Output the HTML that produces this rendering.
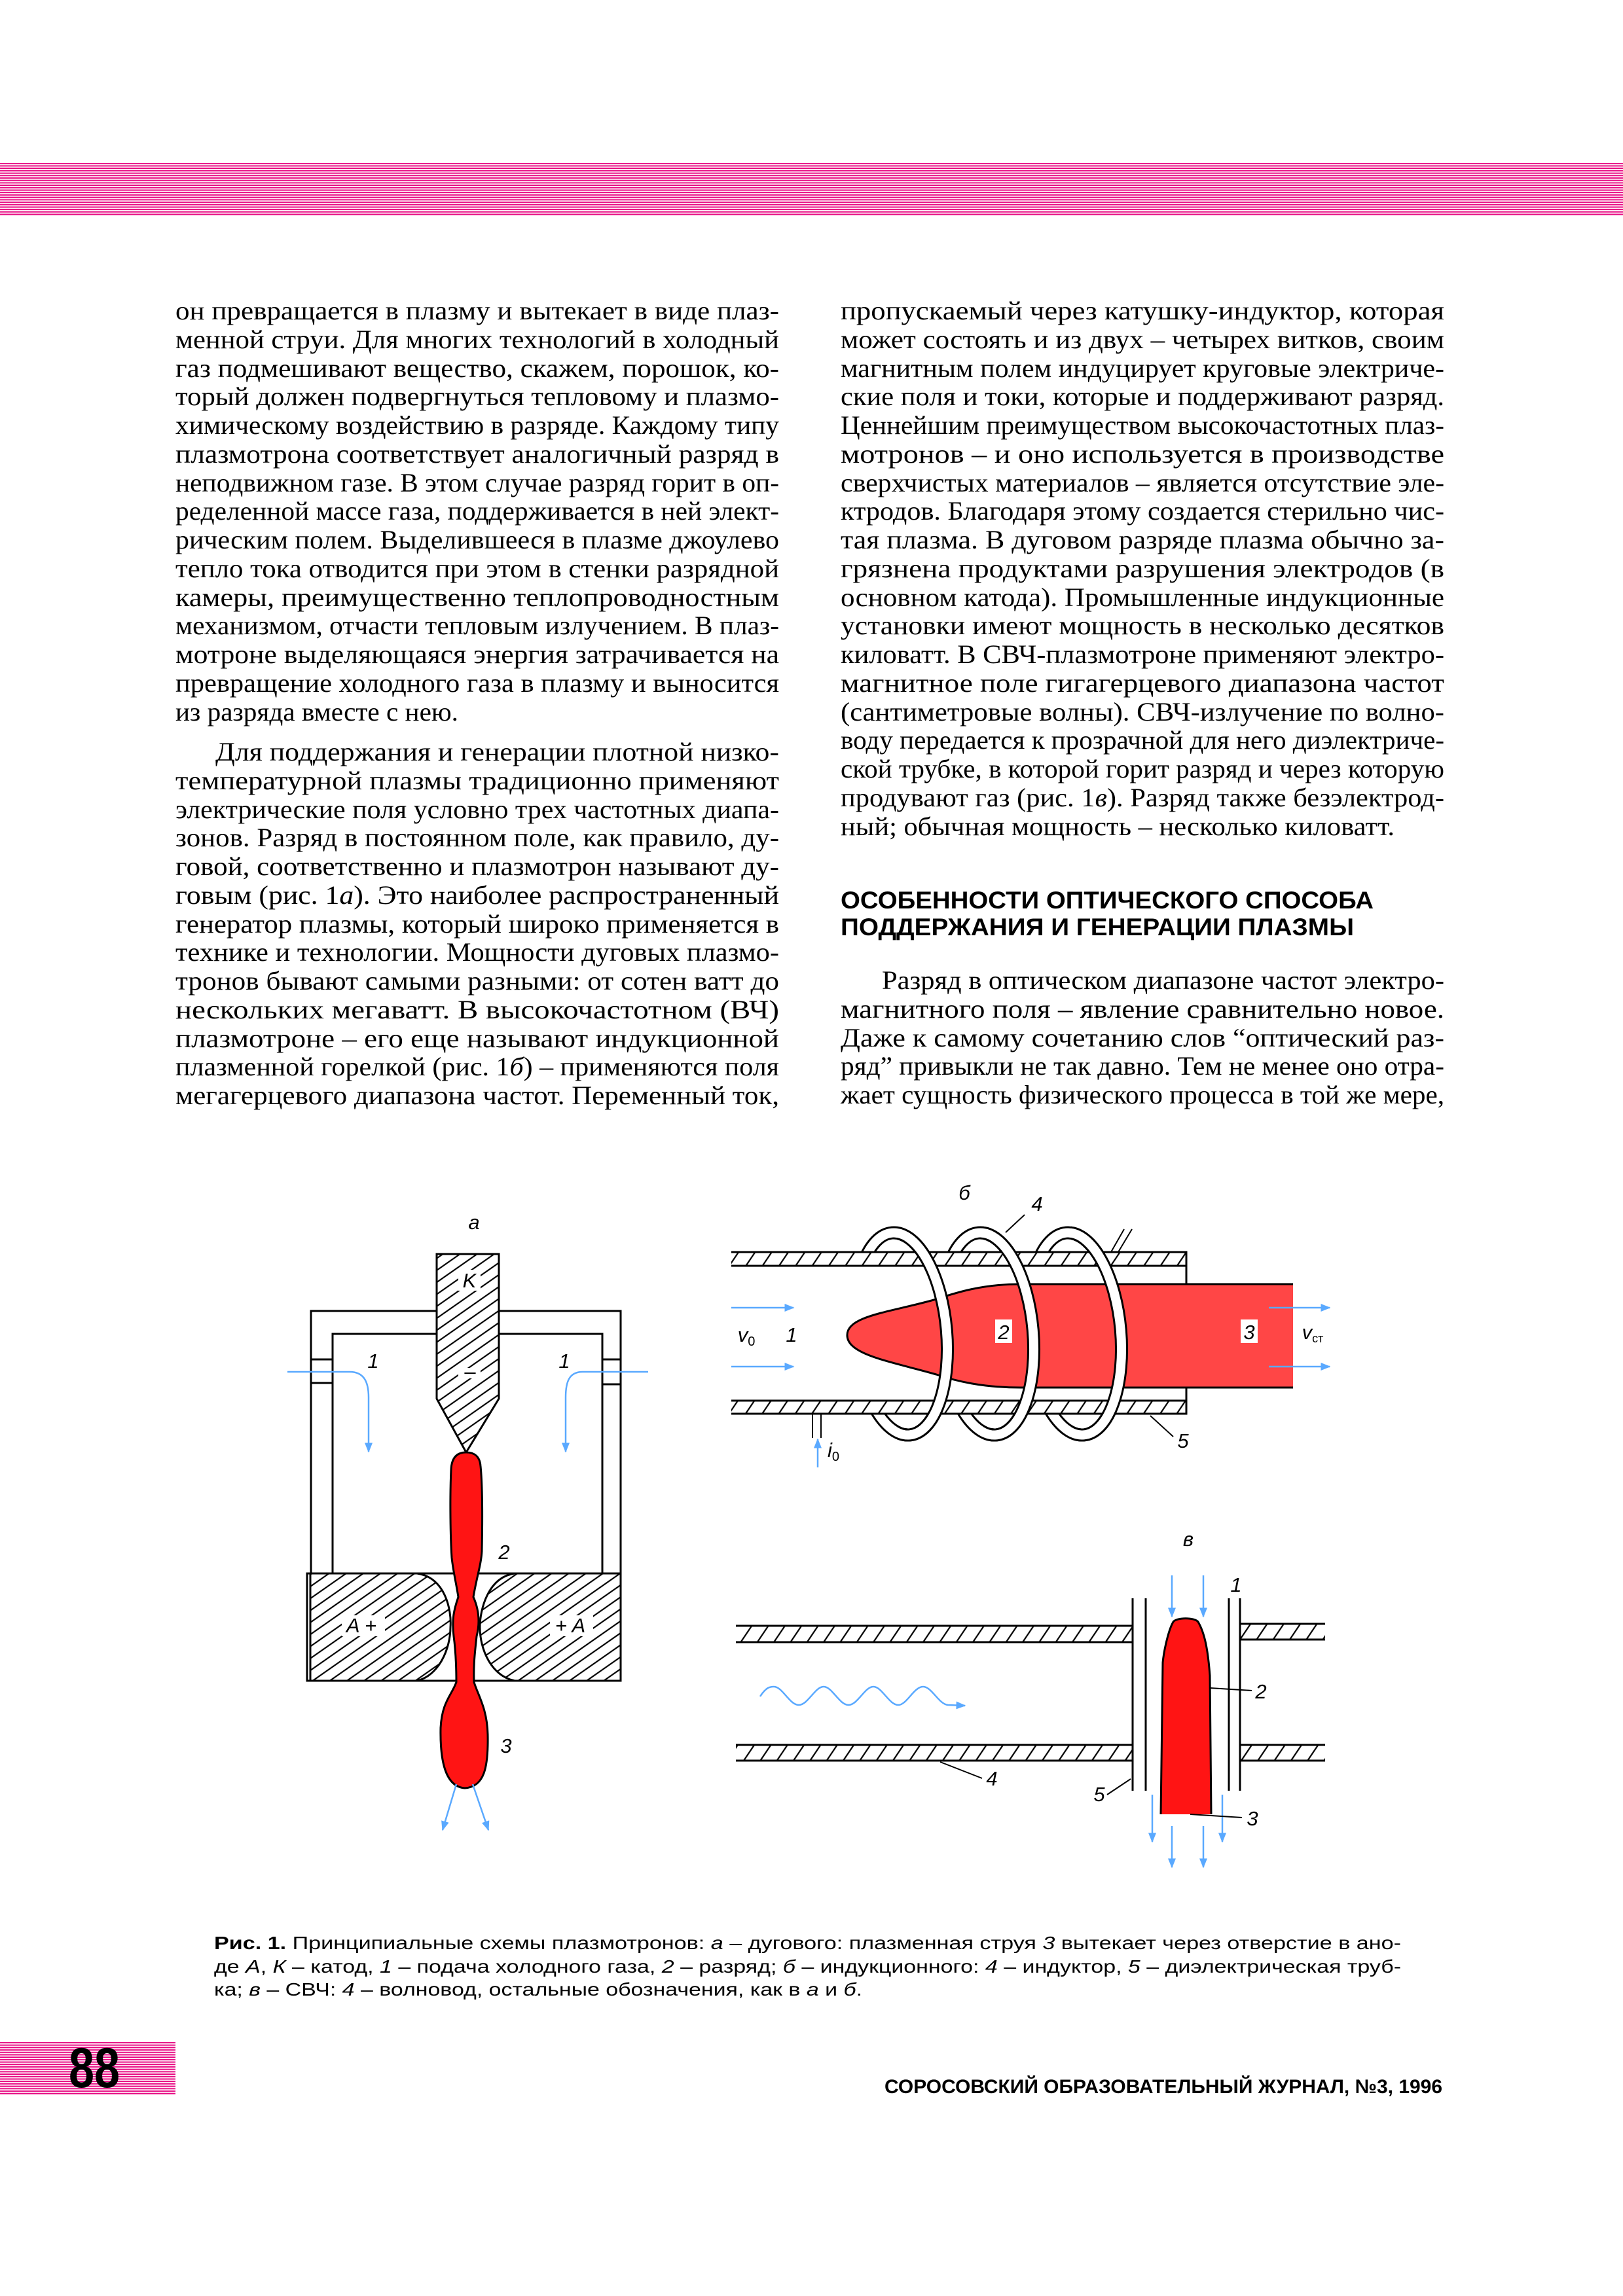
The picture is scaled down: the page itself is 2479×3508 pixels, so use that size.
<!DOCTYPE html>
<html><head><meta charset="utf-8"><style>
html,body{margin:0;padding:0;background:#fff}
svg{display:block}
.b{font-family:"Liberation Serif","DejaVu Serif",serif;font-size:40px;fill:#000}
.h{font-family:"Liberation Sans",sans-serif;font-weight:bold;font-size:37px}
.c{font-family:"Liberation Sans",sans-serif;font-size:28px}
.l{font-family:"Liberation Sans",sans-serif;font-style:italic;font-size:31px}
</style></head><body>
<svg width="2479" height="3508" viewBox="0 0 2479 3508" xmlns="http://www.w3.org/2000/svg">
<defs>
<pattern id="pk" width="40" height="3.7" patternUnits="userSpaceOnUse">
<rect width="40" height="3.7" fill="#fff0f7"/><rect y="1" width="40" height="1.8" fill="#e6007e"/>
</pattern>
<pattern id="ha" width="15" height="15" patternUnits="userSpaceOnUse" patternTransform="rotate(-35)">
<rect width="15" height="15" fill="#fff"/><line x1="0" y1="7.5" x2="15" y2="7.5" stroke="#000" stroke-width="2.2"/>
</pattern>
<pattern id="hb" width="21" height="21" patternUnits="userSpaceOnUse" patternTransform="rotate(-56)">
<rect width="21" height="21" fill="#fff"/><line x1="0" y1="10" x2="21" y2="10" stroke="#000" stroke-width="2.2"/>
</pattern>
<marker id="ar" viewBox="0 0 10 10" refX="9" refY="5" markerWidth="6" markerHeight="6" orient="auto"><path d="M0,1 L10,5 L0,9 Z" fill="#5aa9ff"/></marker>
<clipPath id="f1"><rect x="1370" y="1850" width="300" height="380"/></clipPath>
<clipPath id="f2"><rect x="1502" y="1850" width="300" height="380"/></clipPath>
<clipPath id="f3"><rect x="1636" y="1850" width="300" height="380"/></clipPath>
</defs>

<rect x="0" y="249" width="2479" height="81" fill="url(#pk)"/>
<rect x="0" y="3119" width="268" height="82" fill="url(#pk)"/>
<text x="105" y="3189" font-family="Liberation Sans,sans-serif" font-weight="bold" font-size="86" textLength="78" lengthAdjust="spacingAndGlyphs">88</text>

<g class="b">
<text x="268" y="488" textLength="922" lengthAdjust="spacingAndGlyphs">он превращается в плазму и вытекает в виде плаз-</text>
<text x="268" y="532" textLength="922" lengthAdjust="spacingAndGlyphs">менной струи. Для многих технологий в холодный</text>
<text x="268" y="576" textLength="922" lengthAdjust="spacingAndGlyphs">газ подмешивают вещество, скажем, порошок, ко-</text>
<text x="268" y="619" textLength="922" lengthAdjust="spacingAndGlyphs">торый должен подвергнуться тепловому и плазмо-</text>
<text x="268" y="663" textLength="922" lengthAdjust="spacingAndGlyphs">химическому воздействию в разряде. Каждому типу</text>
<text x="268" y="707" textLength="922" lengthAdjust="spacingAndGlyphs">плазмотрона соответствует аналогичный разряд в</text>
<text x="268" y="751" textLength="922" lengthAdjust="spacingAndGlyphs">неподвижном газе. В этом случае разряд горит в оп-</text>
<text x="268" y="794" textLength="922" lengthAdjust="spacingAndGlyphs">ределенной массе газа, поддерживается в ней элект-</text>
<text x="268" y="838" textLength="922" lengthAdjust="spacingAndGlyphs">рическим полем. Выделившееся в плазме джоулево</text>
<text x="268" y="882" textLength="922" lengthAdjust="spacingAndGlyphs">тепло тока отводится при этом в стенки разрядной</text>
<text x="268" y="926" textLength="922" lengthAdjust="spacingAndGlyphs">камеры, преимущественно теплопроводностным</text>
<text x="268" y="969" textLength="922" lengthAdjust="spacingAndGlyphs">механизмом, отчасти тепловым излучением. В плаз-</text>
<text x="268" y="1013" textLength="922" lengthAdjust="spacingAndGlyphs">мотроне выделяющаяся энергия затрачивается на</text>
<text x="268" y="1057" textLength="922" lengthAdjust="spacingAndGlyphs">превращение холодного газа в плазму и выносится</text>
<text x="268" y="1101" textLength="432" lengthAdjust="spacingAndGlyphs">из разряда вместе с нею.</text>

<text x="329" y="1162" textLength="861" lengthAdjust="spacingAndGlyphs">Для поддержания и генерации плотной низко-</text>
<text x="268" y="1206" textLength="922" lengthAdjust="spacingAndGlyphs">температурной плазмы традиционно применяют</text>
<text x="268" y="1250" textLength="922" lengthAdjust="spacingAndGlyphs">электрические поля условно трех частотных диапа-</text>
<text x="268" y="1293" textLength="922" lengthAdjust="spacingAndGlyphs">зонов. Разряд в постоянном поле, как правило, ду-</text>
<text x="268" y="1337" textLength="922" lengthAdjust="spacingAndGlyphs">говой, соответственно и плазмотрон называют ду-</text>
<text x="268" y="1381" textLength="922" lengthAdjust="spacingAndGlyphs">говым (рис. 1<tspan font-style="italic">а</tspan>). Это наиболее распространенный</text>
<text x="268" y="1425" textLength="922" lengthAdjust="spacingAndGlyphs">генератор плазмы, который широко применяется в</text>
<text x="268" y="1468" textLength="922" lengthAdjust="spacingAndGlyphs">технике и технологии. Мощности дуговых плазмо-</text>
<text x="268" y="1512" textLength="922" lengthAdjust="spacingAndGlyphs">тронов бывают самыми разными: от сотен ватт до</text>
<text x="268" y="1556" textLength="922" lengthAdjust="spacingAndGlyphs">нескольких мегаватт. В высокочастотном (ВЧ)</text>
<text x="268" y="1600" textLength="922" lengthAdjust="spacingAndGlyphs">плазмотроне – его еще называют индукционной</text>
<text x="268" y="1643" textLength="922" lengthAdjust="spacingAndGlyphs">плазменной горелкой (рис. 1<tspan font-style="italic">б</tspan>) – применяются поля</text>
<text x="268" y="1687" textLength="922" lengthAdjust="spacingAndGlyphs">мегагерцевого диапазона частот. Переменный ток,</text>
</g>

<g class="b">
<text x="1284" y="488" textLength="922" lengthAdjust="spacingAndGlyphs">пропускаемый через катушку-индуктор, которая</text>
<text x="1284" y="532" textLength="922" lengthAdjust="spacingAndGlyphs">может состоять и из двух – четырех витков, своим</text>
<text x="1284" y="576" textLength="922" lengthAdjust="spacingAndGlyphs">магнитным полем индуцирует круговые электриче-</text>
<text x="1284" y="619" textLength="922" lengthAdjust="spacingAndGlyphs">ские поля и токи, которые и поддерживают разряд.</text>
<text x="1284" y="663" textLength="922" lengthAdjust="spacingAndGlyphs">Ценнейшим преимуществом высокочастотных плаз-</text>
<text x="1284" y="707" textLength="922" lengthAdjust="spacingAndGlyphs">мотронов – и оно используется в производстве</text>
<text x="1284" y="751" textLength="922" lengthAdjust="spacingAndGlyphs">сверхчистых материалов – является отсутствие эле-</text>
<text x="1284" y="794" textLength="922" lengthAdjust="spacingAndGlyphs">ктродов. Благодаря этому создается стерильно чис-</text>
<text x="1284" y="838" textLength="922" lengthAdjust="spacingAndGlyphs">тая плазма. В дуговом разряде плазма обычно за-</text>
<text x="1284" y="882" textLength="922" lengthAdjust="spacingAndGlyphs">грязнена продуктами разрушения электродов (в</text>
<text x="1284" y="926" textLength="922" lengthAdjust="spacingAndGlyphs">основном катода). Промышленные индукционные</text>
<text x="1284" y="969" textLength="922" lengthAdjust="spacingAndGlyphs">установки имеют мощность в несколько десятков</text>
<text x="1284" y="1013" textLength="922" lengthAdjust="spacingAndGlyphs">киловатт. В СВЧ-плазмотроне применяют электро-</text>
<text x="1284" y="1057" textLength="922" lengthAdjust="spacingAndGlyphs">магнитное поле гигагерцевого диапазона частот</text>
<text x="1284" y="1101" textLength="922" lengthAdjust="spacingAndGlyphs">(сантиметровые волны). СВЧ-излучение по волно-</text>
<text x="1284" y="1144" textLength="922" lengthAdjust="spacingAndGlyphs">воду передается к прозрачной для него диэлектриче-</text>
<text x="1284" y="1188" textLength="922" lengthAdjust="spacingAndGlyphs">ской трубке, в которой горит разряд и через которую</text>
<text x="1284" y="1232" textLength="922" lengthAdjust="spacingAndGlyphs">продувают газ (рис. 1<tspan font-style="italic">в</tspan>). Разряд также безэлектрод-</text>
<text x="1284" y="1276" textLength="846" lengthAdjust="spacingAndGlyphs">ный; обычная мощность – несколько киловатт.</text>
</g>
<text class="h" x="1284" y="1388" textLength="814" lengthAdjust="spacingAndGlyphs">ОСОБЕННОСТИ ОПТИЧЕСКОГО СПОСОБА</text>
<text class="h" x="1284" y="1429" textLength="784" lengthAdjust="spacingAndGlyphs">ПОДДЕРЖАНИЯ И ГЕНЕРАЦИИ ПЛАЗМЫ</text>
<g class="b">
<text x="1347" y="1511" textLength="859" lengthAdjust="spacingAndGlyphs">Разряд в оптическом диапазоне частот электро-</text>
<text x="1284" y="1555" textLength="922" lengthAdjust="spacingAndGlyphs">магнитного поля – явление сравнительно новое.</text>
<text x="1284" y="1599" textLength="922" lengthAdjust="spacingAndGlyphs">Даже к самому сочетанию слов “оптический раз-</text>
<text x="1284" y="1642" textLength="922" lengthAdjust="spacingAndGlyphs">ряд” привыкли не так давно. Тем не менее оно отра-</text>
<text x="1284" y="1686" textLength="922" lengthAdjust="spacingAndGlyphs">жает сущность физического процесса в той же мере,</text>
</g>

<g fill="none" stroke="#000" stroke-width="3">
<path d="M475,2404 V2003 H667 M762,2003 H948 V2404"/>
<path d="M508,2404 V2038 H667 M762,2038 H920 V2404"/>
<path d="M475,2077 H508 M475,2113 H508 M920,2077 H948 M920,2115 H948"/>
</g>
<polygon points="667,1916 762,1916 762,2137 712,2219 667,2137" fill="url(#ha)" stroke="#000" stroke-width="3"/>
<rect x="469" y="2404" width="479" height="164" fill="#fff" stroke="#000" stroke-width="3"/>
<path d="M474,2404 H637 C680,2410 690,2460 688,2486 C688,2520 670,2560 637,2568 H474 Z" fill="url(#ha)" stroke="#000" stroke-width="3"/>
<path d="M948,2404 H786 C745,2410 733,2460 733,2486 C733,2520 750,2560 786,2568 H948 Z" fill="url(#ha)" stroke="#000" stroke-width="3"/>
<path d="M712,2219 C700,2219 690,2225 689,2245 C687,2290 688,2350 690,2380 C692,2400 697,2420 700,2440 C693,2460 690,2475 693,2500 C697,2530 697,2555 697,2570 C690,2590 675,2600 673,2640 C672,2690 680,2730 710,2732 C740,2730 746,2700 745,2650 C744,2610 730,2590 724,2570 C723,2540 726,2520 728,2500 C733,2480 732,2460 723,2440 C728,2410 735,2390 736,2370 C737,2320 737,2270 734,2240 C733,2225 724,2219 712,2219 Z" fill="#ff1414" stroke="#000" stroke-width="3"/>
<g fill="none" stroke="#5aa9ff" stroke-width="2.5" marker-end="url(#ar)">
<path d="M439,2096 H534 C555,2096 563,2110 563,2135 V2218"/>
<path d="M990,2096 H890 C870,2096 864,2110 864,2135 V2218"/>
<path d="M697,2726 L676,2796"/>
<path d="M722,2726 L746,2796"/>
</g>
<g fill="#fff">
<rect x="700" y="1940" width="34" height="32"/><rect x="700" y="2090" width="34" height="16"/>
<rect x="522" y="2468" width="66" height="32"/><rect x="840" y="2468" width="66" height="32"/>
</g>
<g class="l" text-anchor="middle">
<text x="724" y="1878">а</text>
<text x="717" y="1967">K</text>
<text x="718" y="2106" font-style="normal">–</text>
<text x="570" y="2090">1</text><text x="862" y="2090">1</text>
<text x="770" y="2382">2</text><text x="773" y="2678">3</text>
<text x="552" y="2494">A +</text><text x="871" y="2494">+ A</text>
</g>

<g fill="none">
<g transform="rotate(-5 1376 2038)"><ellipse cx="1376" cy="2038" rx="70" ry="155" stroke="#000" stroke-width="20"/><ellipse cx="1376" cy="2038" rx="70" ry="155" stroke="#fff" stroke-width="14"/></g>
<g transform="rotate(-5 1508 2038)"><ellipse cx="1508" cy="2038" rx="70" ry="155" stroke="#000" stroke-width="20"/><ellipse cx="1508" cy="2038" rx="70" ry="155" stroke="#fff" stroke-width="14"/></g>
<g transform="rotate(-5 1642 2038)"><ellipse cx="1642" cy="2038" rx="70" ry="155" stroke="#000" stroke-width="20"/><ellipse cx="1642" cy="2038" rx="70" ry="155" stroke="#fff" stroke-width="14"/></g>
</g>
<rect x="1117" y="1935" width="695" height="204" fill="#fff"/>
<rect x="1117" y="1913" width="695" height="21" fill="url(#hb)"/>
<rect x="1117" y="2140" width="695" height="20" fill="url(#hb)"/>
<g stroke="#000" stroke-width="3" fill="none">
<path d="M1117,1913 H1812 V1962 M1117,1934 H1812 M1117,2140 H1812 M1117,2160 H1812 V2120"/>
<path d="M1697,1913 L1717,1878 M1708,1913 L1729,1878" stroke-width="2"/>
<path d="M1241,2160 V2197 M1254,2160 V2197" stroke-width="2"/>
</g>
<path d="M1975,1962 H1559 C1500,1962 1460,1975 1430,1985 C1360,2005 1294,2010 1294,2040 C1294,2070 1360,2080 1430,2100 C1460,2110 1500,2120 1559,2120 H1975 Z" fill="#ff4646"/>
<path d="M1975,1962 H1559 C1500,1962 1460,1975 1430,1985 C1360,2005 1294,2010 1294,2040 C1294,2070 1360,2080 1430,2100 C1460,2110 1500,2120 1559,2120 H1975" fill="none" stroke="#000" stroke-width="3"/>
<g fill="none">
<g clip-path="url(#f1)"><g transform="rotate(-5 1376 2038)"><ellipse cx="1376" cy="2038" rx="70" ry="155" stroke="#000" stroke-width="20"/><ellipse cx="1376" cy="2038" rx="70" ry="155" stroke="#fff" stroke-width="14"/></g></g>
<g clip-path="url(#f2)"><g transform="rotate(-5 1508 2038)"><ellipse cx="1508" cy="2038" rx="70" ry="155" stroke="#000" stroke-width="20"/><ellipse cx="1508" cy="2038" rx="70" ry="155" stroke="#fff" stroke-width="14"/></g></g>
<g clip-path="url(#f3)"><g transform="rotate(-5 1642 2038)"><ellipse cx="1642" cy="2038" rx="70" ry="155" stroke="#000" stroke-width="20"/><ellipse cx="1642" cy="2038" rx="70" ry="155" stroke="#fff" stroke-width="14"/></g></g>
</g>
<g stroke="#5aa9ff" stroke-width="2.5" marker-end="url(#ar)" fill="none">
<path d="M1117,1998 H1212"/><path d="M1117,2088 H1212"/>
<path d="M1938,1998 H2031"/><path d="M1938,2088 H2031"/>
<path d="M1249,2242 V2199"/>
</g>
<g stroke="#000" stroke-width="2"><path d="M1565,1856 L1536,1883"/><path d="M1757,2163 L1792,2195"/></g>
<rect x="1520" y="2016" width="26" height="36" fill="#fff"/>
<rect x="1895" y="2016" width="26" height="36" fill="#fff"/>
<g class="l" text-anchor="middle">
<text x="1473" y="1833">б</text>
<text x="1584" y="1850">4</text>
<text x="1140" y="2050">v<tspan font-size="20" font-style="normal" dy="6">0</tspan></text>
<text x="1209" y="2050">1</text>
<text x="1533" y="2046">2</text>
<text x="1908" y="2046">3</text>
<text x="2005" y="2046">v<tspan font-size="18" font-style="normal" dy="5">ст</tspan></text>
<text x="1807" y="2212">5</text>
<text x="1273" y="2226">i<tspan font-size="20" font-style="normal" dy="6">0</tspan></text>
</g>

<rect x="1124" y="2484" width="606" height="25" fill="url(#hb)"/>
<rect x="1124" y="2666" width="606" height="24" fill="url(#hb)"/>
<rect x="1894" y="2481" width="130" height="24" fill="url(#hb)"/>
<rect x="1894" y="2666" width="130" height="24" fill="url(#hb)"/>
<g stroke="#000" stroke-width="3" fill="none">
<path d="M1124,2484 H1730 M1124,2509 H1730 M1124,2666 H1730 M1124,2690 H1730"/>
<path d="M1894,2481 H2024 M1894,2505 H2024 M1894,2666 H2024 M1894,2690 H2024"/>
<path d="M1730,2442 V2736 M1750,2442 V2736 M1877,2442 V2736 M1894,2442 V2736"/>
</g>
<path d="M1773,2772 L1776,2540 C1778,2520 1785,2490 1792,2478 C1797,2471 1825,2471 1830,2478 C1840,2495 1845,2520 1848,2560 L1850,2772 Z" fill="#ff1414"/>
<path d="M1773,2772 L1776,2540 C1778,2520 1785,2490 1792,2478 C1797,2471 1825,2471 1830,2478 C1840,2495 1845,2520 1848,2560 L1850,2772" fill="none" stroke="#000" stroke-width="3"/>
<g stroke="#5aa9ff" stroke-width="2.5" marker-end="url(#ar)" fill="none">
<path d="M1790,2407 V2470"/><path d="M1838,2407 V2470"/>
<path d="M1760,2742 V2814"/><path d="M1867,2742 V2814"/>
<path d="M1790,2790 V2853"/><path d="M1838,2790 V2853"/>
<path d="M1161,2592 C1170,2578 1176,2577 1182,2577 C1195,2577 1206,2605 1220,2605 C1234,2605 1245,2577 1258,2577 C1271,2577 1282,2605 1296,2605 C1310,2605 1321,2577 1334,2577 C1347,2577 1358,2605 1372,2605 C1385,2605 1396,2577 1410,2577 C1423,2577 1434,2604 1448,2605 L1474,2606"/>
</g>
<g stroke="#000" stroke-width="2">
<path d="M1848,2579 L1912,2583"/><path d="M1818,2772 L1897,2777"/>
<path d="M1436,2692 L1500,2717"/><path d="M1691,2742 L1727,2718"/>
</g>
<g class="l" text-anchor="middle">
<text x="1815" y="2362">в</text>
<text x="1888" y="2432">1</text>
<text x="1926" y="2595">2</text>
<text x="1913" y="2789">3</text>
<text x="1515" y="2728">4</text>
<text x="1679" y="2752">5</text>
</g>

<text class="c" x="327" y="2978" textLength="1813" lengthAdjust="spacingAndGlyphs"><tspan font-weight="bold">Рис. 1.</tspan> Принципиальные схемы плазмотронов: <tspan font-style="italic">а</tspan> – дугового: плазменная струя <tspan font-style="italic">3</tspan> вытекает через отверстие в ано-</text>
<text class="c" x="327" y="3014" textLength="1813" lengthAdjust="spacingAndGlyphs">де <tspan font-style="italic">А</tspan>, <tspan font-style="italic">К</tspan> – катод, <tspan font-style="italic">1</tspan> – подача холодного газа, <tspan font-style="italic">2</tspan> – разряд; <tspan font-style="italic">б</tspan> – индукционного: <tspan font-style="italic">4</tspan> – индуктор, <tspan font-style="italic">5</tspan> – диэлектрическая труб-</text>
<text class="c" x="327" y="3049" textLength="990" lengthAdjust="spacingAndGlyphs">ка; <tspan font-style="italic">в</tspan> – СВЧ: <tspan font-style="italic">4</tspan> – волновод, остальные обозначения, как в <tspan font-style="italic">а</tspan> и <tspan font-style="italic">б</tspan>.</text>

<text x="1351" y="3198" font-family="Liberation Sans,sans-serif" font-weight="bold" font-size="30" textLength="852" lengthAdjust="spacingAndGlyphs">СОРОСОВСКИЙ ОБРАЗОВАТЕЛЬНЫЙ ЖУРНАЛ, №3, 1996</text>
</svg>
</body></html>
